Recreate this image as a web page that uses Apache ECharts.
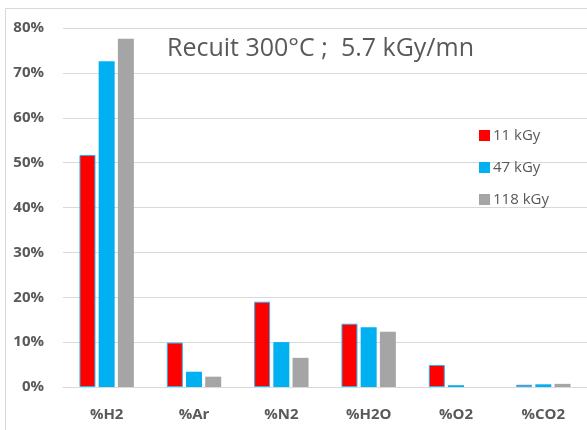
<!DOCTYPE html>
<html><head><meta charset="utf-8">
<script src="https://cdn.jsdelivr.net/npm/echarts@6/dist/echarts.min.js"></script>
<style>html,body{margin:0;padding:0;background:#fff}#c{width:587px;height:430px}</style>
</head><body><div id="c"></div>
<script>
const categories = ['%H2','%Ar','%N2','%H2O','%O2','%CO2'];
const seriesNames = ['11 kGy','47 kGy','118 kGy'];
const s11 = [51.7, 9.9, 19.0, 14.1, 4.9, 0.5];
const s47 = [72.6, 3.4, 10.0, 13.3, 0.4, 0.6];
const s118 = [77.6, 2.3, 6.5, 12.3, 0, 0.7];
const yTicks = [0,10,20,30,40,50,60,70,80];
const titleText = 'Recuit 300°C ;  5.7 kGy/mn';

const chart = echarts.init(document.getElementById('c'));
const font = 'Open Sans, Liberation Sans, sans-serif';
chart.setOption({
  animation:false,
  backgroundColor:'#fff',
  graphic:[{type:'rect',shape:{x:5.5,y:8.5,width:700,height:600},style:{fill:'none',stroke:'#d9d9d9',lineWidth:1},z:-1}],
  title:{text:titleText,left:162,top:31,textStyle:{fontFamily:font,fontSize:25,fontWeight:'normal',color:'#595959'}},
  legend:{orient:'vertical',left:474,top:123,itemGap:17,itemWidth:11,itemHeight:11,icon:'rect',itemStyle:{borderWidth:0},
    textStyle:{fontFamily:font,fontSize:15,color:'#595959',padding:[0,0,0,-2]},data:seriesNames},
  grid:{left:63,right:0,top:28,bottom:43,containLabel:false},
  xAxis:{type:'category',data:categories,axisTick:{show:false},
    axisLine:{lineStyle:{color:'#d9d9d9'}},
    axisLabel:{fontFamily:font,fontSize:15,fontWeight:'bold',color:'#595959',margin:20}},
  yAxis:{type:'value',min:yTicks[0],max:yTicks[yTicks.length-1],interval:10,
    axisLine:{show:false},axisTick:{show:false},
    splitLine:{lineStyle:{color:'#d9d9d9'}},
    axisLabel:{formatter:'{value}%',fontFamily:font,fontSize:15,fontWeight:'bold',color:'#595959',margin:19}},
  series:[
    {name:seriesNames[0],type:'bar',data:s11,barWidth:16,barGap:'20%',itemStyle:{color:'#ff0000',borderColor:'#2ab4f0',borderWidth:1}},
    {name:seriesNames[1],type:'bar',data:s47,barWidth:16,barGap:'20%',itemStyle:{color:'#00b0f0'}},
    {name:seriesNames[2],type:'bar',data:s118,barWidth:16,barGap:'20%',itemStyle:{color:'#a5a5a5'}}
  ]
});
</script></body></html>
